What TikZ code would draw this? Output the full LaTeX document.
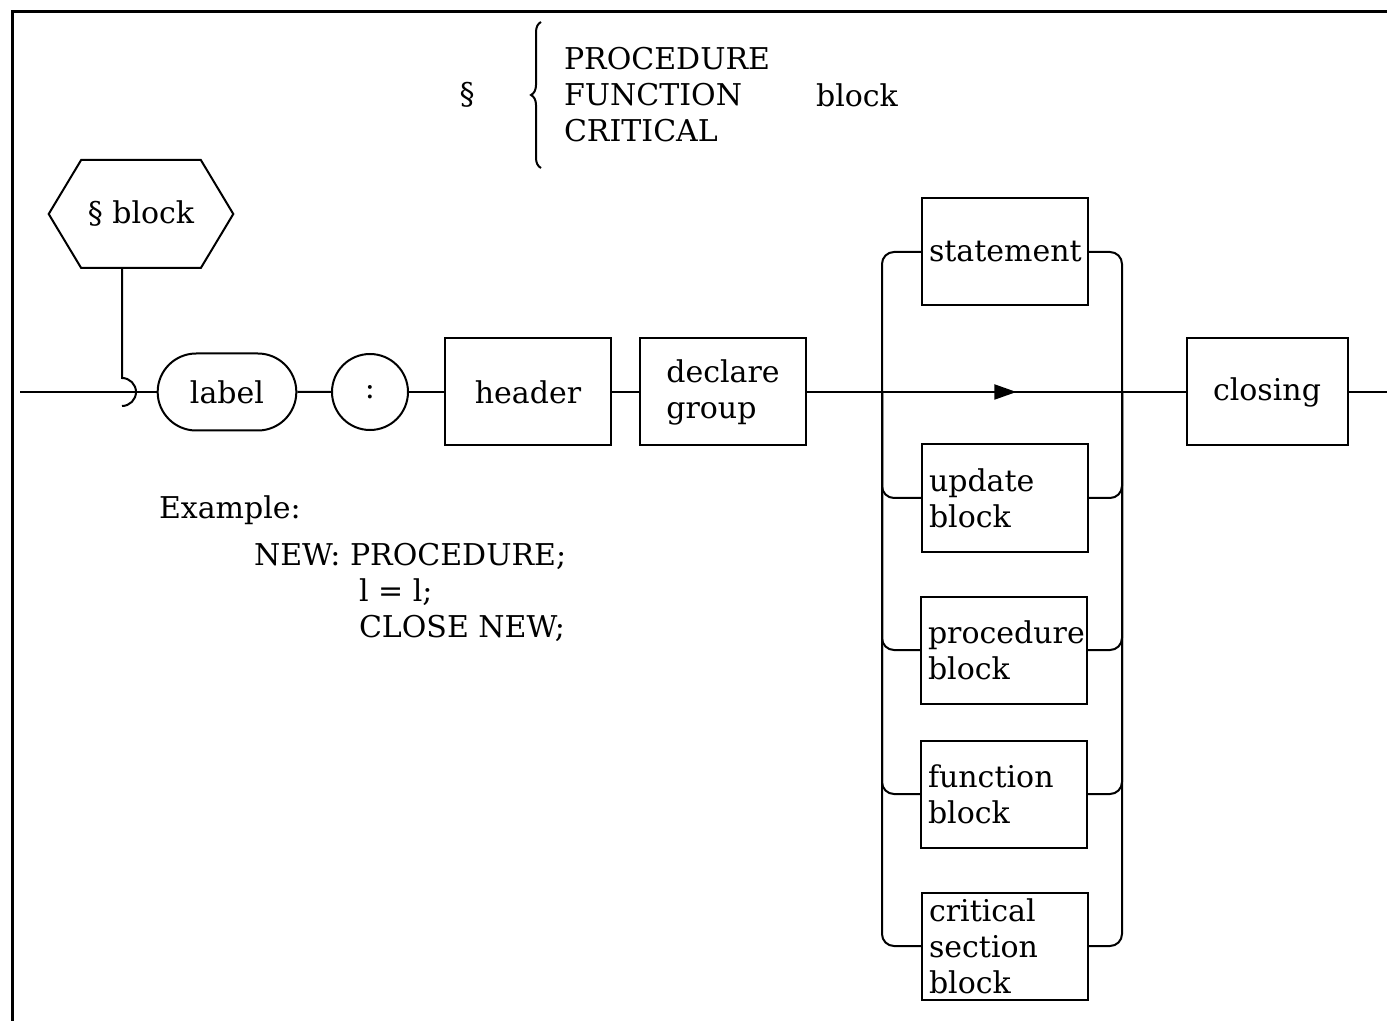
\documentclass[tikz,border=0pt]{standalone}
\usepackage{fontspec}
\setmainfont{DejaVu Serif}
\usetikzlibrary{shapes.misc,shapes.symbols,arrows.meta,decorations.pathreplacing,decorations.markings}
\tikzset{
  box/.style={draw, rectangle, minimum width=83pt, minimum height=53.5pt, align=left},
  alt/.style={box, text width=76pt, inner xsep=3.5pt, inner ysep=2pt},
  hexa/.style={draw, signal, signal to=west and east, signal pointer angle=118,
    minimum width=91pt, minimum height=54pt},
  pill/.style={draw, rounded rectangle, minimum width=76pt, minimum height=38.5pt},
  ring/.style={draw, circle, minimum size=38pt, inner sep=0pt},
  rail/.style={rounded corners=6pt},
  code/.style={anchor=base west, inner sep=0pt},
  marked/.style={postaction={decorate}, decoration={markings,
    mark=at position 0.56 with {\arrow{Triangle[length=11pt, width=7.5pt]}}}}
}
\begin{document}
\begin{tikzpicture}[x=0.5pt, y=-0.5pt, line width=1pt, font=\fontsize{15}{18}\selectfont]
    \useasboundingbox (0,0) rectangle (1387,1021);
    \draw[line width=1.5pt] (12,1021) -- (12,12) -- (1387,12);
    % heading
    \node (sec) at (467,95) {\S};
    \node[anchor=west, inner sep=0pt, minimum height=72pt, align=left] (kw) at (563,95) {PROCEDURE\\FUNCTION\\CRITICAL};
    \node (kwb) at (857,95) {block};
    \draw[decorate, decoration={brace, amplitude=5pt}] ([xshift=-11pt]kw.south west) -- ([xshift=-11pt]kw.north west);
    % main row
    \node[hexa] (blk) at (141,214) {\S\ block};
    \coordinate (in) at (20,392);
    \coordinate (hk) at (122,392);
    \node[pill] (lbl) at (227,392) {label};
    \node[ring] (col) at (370,392) {:};
    \node[box] (hdr) at (528,392) {header};
    \node[box] (dcl) at (723,392) {declare\\group};
    \coordinate (jl) at (882,392);
    \coordinate (jr) at (1122,392);
    \node[alt] (stm) at (1005,252) {statement};
    \node[alt] (upd) at (1005,498) {update\\block};
    \node[alt] (prc) at (1004,650) {procedure\\block};
    \node[alt] (fnc) at (1004,794) {function\\block};
    \node[alt] (crt) at (1005,946) {critical\\section\\block};
    \node[box, minimum width=80.5pt] (cls) at (1267,392) {closing};
    \coordinate (out) at (1387,392);
    % example
    \node[code] (ex) at (158,518) {Example:};
    \node[code] (ex1) at (253,565) {NEW: PROCEDURE;};
    \node[code] (ex2) at (358,601) {l = l;};
    \node[code] (ex3) at (358,637) {CLOSE NEW;};
    % connectors
    \draw (in) -- (lbl.west);
    \draw (hk |- blk.south) -- ([yshift=7pt]hk) arc[start angle=90, end angle=-90, radius=7pt];
    \path (lbl) edge (col);
    \path (col) edge (hdr);
    \path (hdr) edge (dcl);
    \path (dcl) edge (jl);
    \draw[marked] (jl) -- (jr);
    \path (jr) edge (cls);
    \path (cls) edge (out);
    \draw[rail] (stm.west) -| (jl) |- (crt.west);
    \draw[rail] (stm.east) -| (jr) |- (crt.east);
    \draw[rail] (jl) |- (upd.west);
    \draw[rail] (jr) |- (upd.east);
    \draw[rail] (jl) |- (prc.west);
    \draw[rail] (jr) |- (prc.east);
    \draw[rail] (jl) |- (fnc.west);
    \draw[rail] (jr) |- (fnc.east);
  \end{tikzpicture}
\end{document}
